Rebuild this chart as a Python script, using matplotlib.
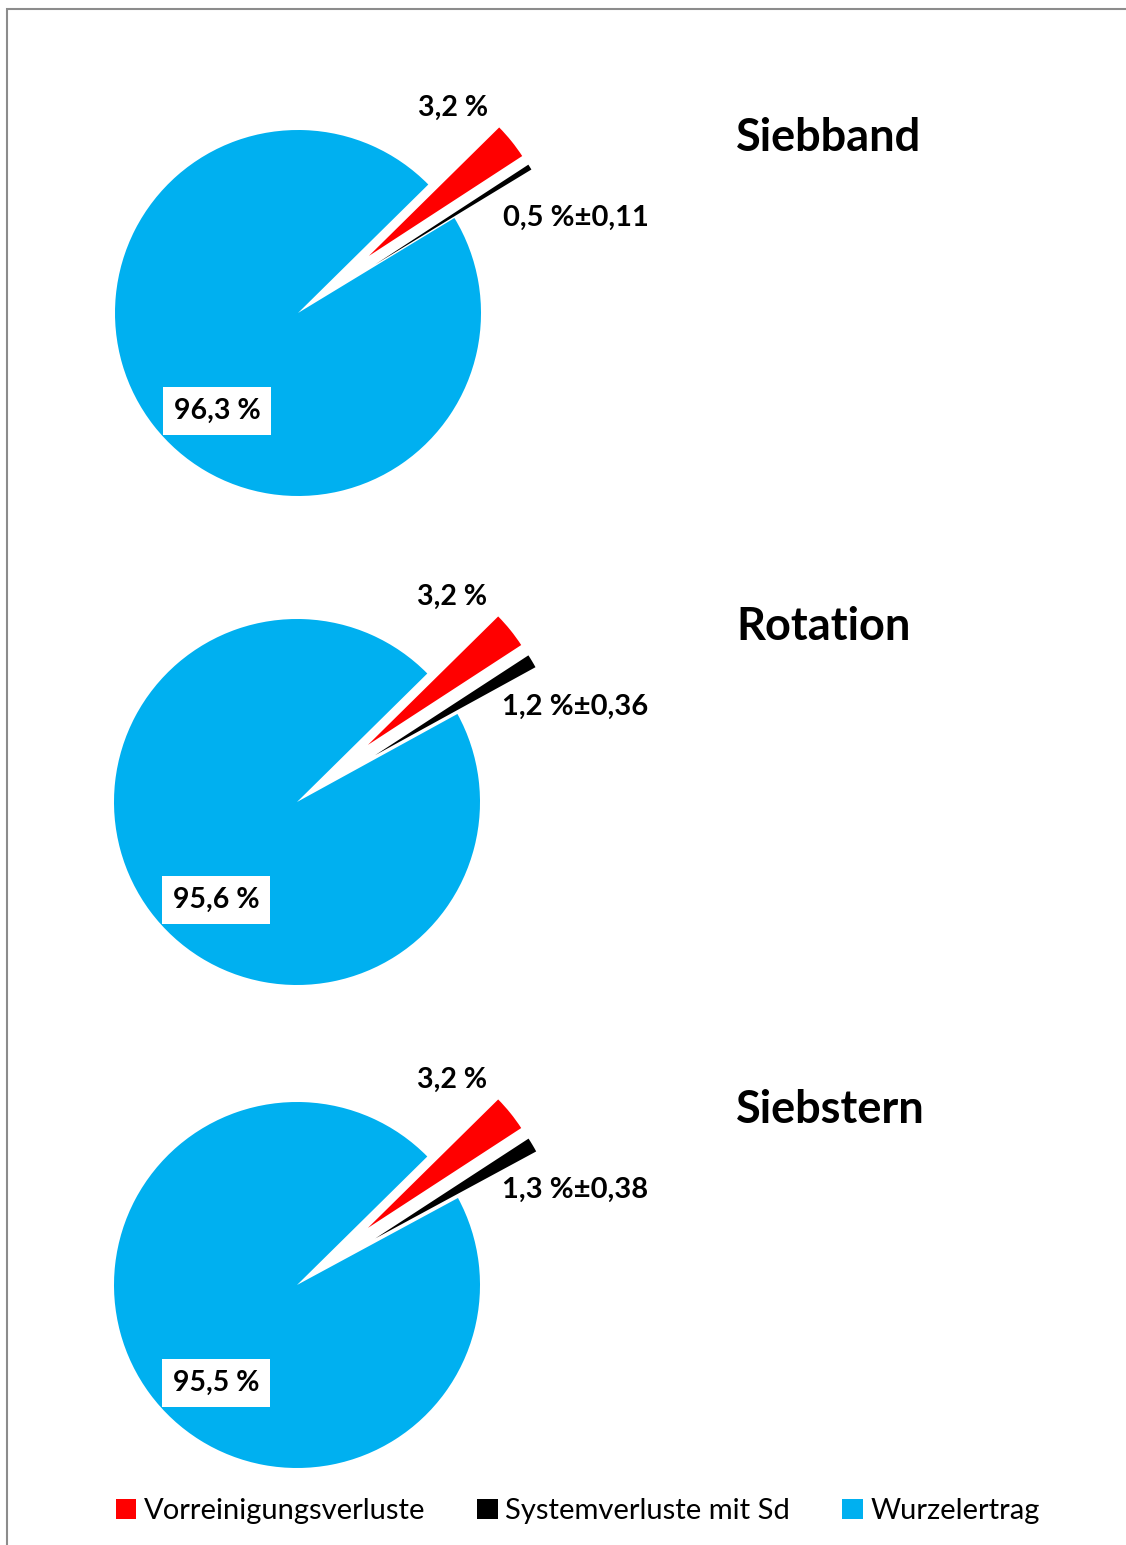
import matplotlib
matplotlib.use("Agg")
import matplotlib.pyplot as plt
from matplotlib.patches import Rectangle

W, H = 1126, 1545

methods = ["Siebband", "Rotation", "Siebstern"]
categories = ["Vorreinigungsverluste", "Systemverluste mit Sd", "Wurzelertrag"]
vorreinigung = [3.2, 3.2, 3.2]
system = [0.5, 1.2, 1.3]
system_sd = [0.11, 0.36, 0.38]
ertrag = [96.3, 95.6, 95.5]

colors = ["#FF0000", "#000000", "#00B0F0"]
# pie centres in pixel coords (top-left origin)
centres = [(298, 313), (297, 802), (297, 1285)]
radius = 183
explode_px = 91  # matplotlib explode is in data units, not radius fractions

plt.rcParams["font.family"] = ["Lato", "DejaVu Sans"]

fig = plt.figure(figsize=(W / 100, H / 100), dpi=100)
ax = fig.add_axes([0, 0, 1, 1])


def fmt(v, nd=1):
    return f"{v:.{nd}f}".replace(".", ",")


wedges = None
for i, (cx, cy) in enumerate(centres):
    yc = H - cy
    vals = [vorreinigung[i], system[i], ertrag[i]]
    w, _ = ax.pie(vals, colors=colors, startangle=44.6, counterclock=False,
                  explode=[explode_px, explode_px, 0], center=(cx, yc),
                  radius=radius, wedgeprops=dict(linewidth=0))
    if wedges is None:
        wedges = w
    # red label
    ax.text(cx + 155, yc + 205, f"{fmt(vorreinigung[i])} %", fontsize=20.5,
            fontweight="bold", ha="center", va="center")
    # black label with sd
    ax.text(cx + 205, yc + 95, f"{fmt(system[i])} %±{fmt(system_sd[i], 2)}",
            fontsize=21, fontweight="bold", ha="left", va="center")
    # blue label in white box
    ax.text(cx - 81, yc - 98, f"{fmt(ertrag[i])} %", fontsize=20.5,
            fontweight="bold", ha="center", va="center",
            bbox=dict(facecolor="white", edgecolor="none", pad=8))
    # method title
    ax.text(736, yc + 175, methods[i], fontsize=32.5, fontweight="bold",
            ha="left", va="center")

ax.set_xlim(0, W)
ax.set_ylim(0, H)
ax.set_aspect("equal")
ax.axis("off")

fig.legend(wedges, categories, loc="center", bbox_to_anchor=(0.513, 1 - 1511 / H),
           ncol=3, frameon=False, fontsize=21, handlelength=0.7,
           handleheight=0.7, handletextpad=0.25, columnspacing=1.8)

fig.patches.append(Rectangle((7 / W, -0.01), 1.0, 1 - 9 / H + 0.01,
                             transform=fig.transFigure, fill=False,
                             edgecolor="#8c8c8c", linewidth=1.5))

fig.savefig("out.png", dpi=100)
